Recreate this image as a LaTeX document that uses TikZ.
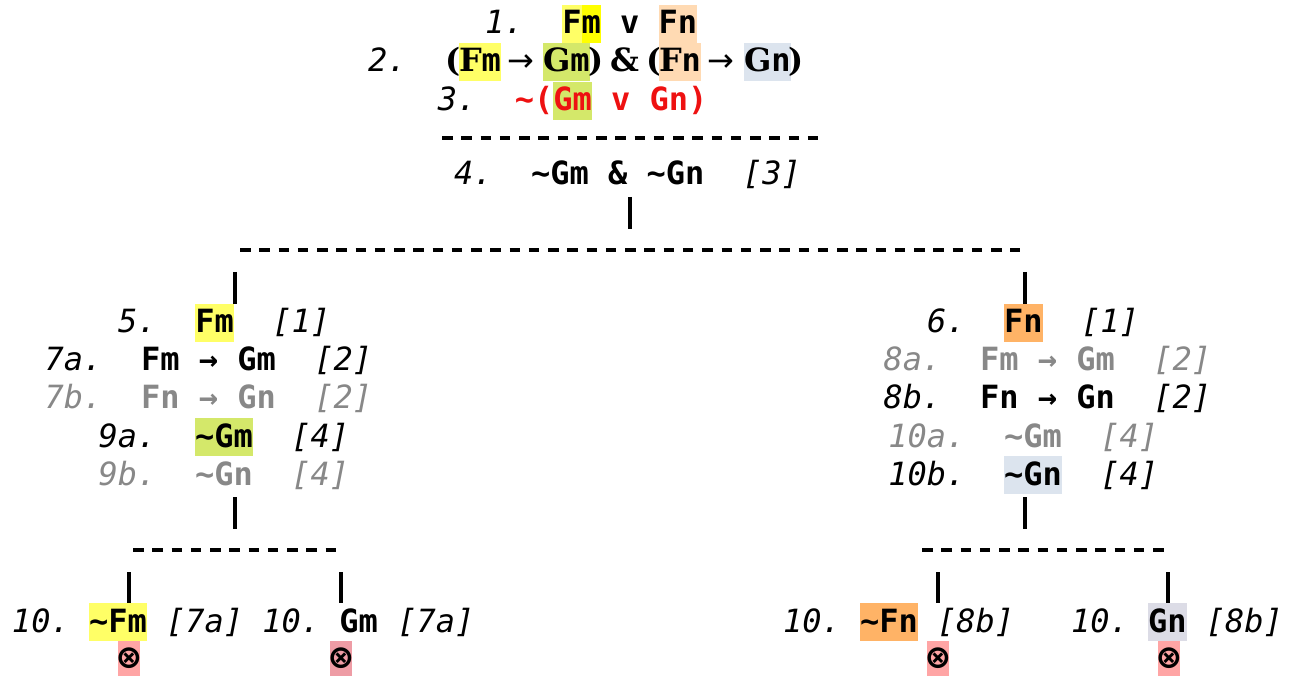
\documentclass[tikz,border=0pt]{standalone}
\usepackage{fontspec}
\setmainfont{DejaVu Sans Mono}[BoldFont={DejaVu Sans Mono Bold},ItalicFont={DejaVu Sans Mono Oblique},BoldItalicFont={DejaVu Sans Mono Bold Oblique}]
\newfontfamily\serb{DejaVu Serif}[BoldFont={DejaVu Serif Bold}]
\newfontfamily\djsans{DejaVu Sans}
\definecolor{hyl}{HTML}{FFFF66}
\definecolor{hyy}{HTML}{FFFF00}
\definecolor{hpe}{HTML}{FFDAB3}
\definecolor{hor}{HTML}{FFB366}
\definecolor{hgr}{HTML}{D4E86A}
\definecolor{hbl}{HTML}{DCE4EE}
\definecolor{hlv}{HTML}{DCDCE6}
\definecolor{hrd}{HTML}{FFA5A5}
\definecolor{hrdb}{HTML}{EE9CA5}
\definecolor{txg}{HTML}{888888}
\definecolor{txr}{HTML}{EE1111}
\newcommand\hl[2]{{\setlength{\fboxsep}{0pt}\colorbox{#1}{\rule[-9pt]{0pt}{38pt}#2}}}
\newcommand\lab[1]{{\mdseries\itshape #1}}
\newcommand\tl{\textasciitilde}
\tikzset{
  txt/.style={anchor=base west, inner sep=0pt, outer sep=0pt, font=\fontsize{32}{38}\selectfont\bfseries},
  dashrule/.style={line width=4pt, dash pattern=on 10.5pt off 8.76pt},
  bar/.style={line width=3.5pt},
  closed/.style={anchor=north, inner sep=0pt, outer sep=0pt, minimum width=20.5pt, minimum height=36pt, font=\fontsize{36}{40}\selectfont\bfseries}
}
\begin{document}
\begin{tikzpicture}[x=1pt,y=-1pt]
\useasboundingbox (0,0) rectangle (1294,676);
% premises
\node[txt] (r1) at (485.2,34) {\lab{1.}\ \ \hl{hyl}{F}\hl{hyy}{m}\ v\ \hl{hpe}{Fn}};
\node[txt] (r2n) at (368,72) {\lab{2.}};
\node[txt] (r2a) at (445,72) {\serb(};
\node[txt] (r2b) at (459,72) {\hl{hyl}{{\serb F}m}};
\node[txt] (r2c) at (507,72) {\djsans\mdseries →};
\node[txt] (r2d) at (543,72) {\hl{hgr}{{\serb G}m}};
\node[txt] (r2e) at (588,72) {\serb)};
\node[txt] (r2f) at (610,72) {\serb\&};
\node[txt] (r2g) at (646,72) {\serb(};
\node[txt] (r2h) at (659,72) {\hl{hpe}{{\serb F}n}};
\node[txt] (r2i) at (707,72) {\djsans\mdseries →};
\node[txt] (r2j) at (744,72) {\hl{hbl}{{\serb G}n}};
\node[txt] (r2k) at (788,72) {\serb)};
\node[txt] (r3) at (437.8,111) {\lab{3.}\ \ {\color{txr}\tl(\hl{hgr}{Gm}\ v\ Gn)}};
\coordinate (d1a) at (442,138);
\coordinate (d1b) at (818,138);
\draw[dashrule] (d1a) -- (d1b);
\node[txt] (r4) at (454,185) {\lab{4.}\ \ \tl Gm\ \&\ \tl Gn\ \ \lab{[3]}};
\coordinate (b1a) at (630,197);
\coordinate (b1b) at (630,229);
\draw[bar] (b1a) -- (b1b);
\coordinate (d2a) at (240,250.5);
\coordinate (d2b) at (1020,250.5);
\draw[dashrule] (d2a) -- (d2b);
% left branch
\coordinate (bLa) at (235,272);
\coordinate (bLb) at (235,304);
\draw[bar] (bLa) -- (bLb);
\node[txt] (r5) at (118.2,333) {\lab{5.}\ \ \hl{hyl}{Fm}\ \ \lab{[1]}};
\node[txt] (r7a) at (44.7,371) {\lab{7a.}\ \ Fm\ →\ Gm\ \ \lab{[2]}};
\node[txt] (r7b) at (44.7,409) {\color{txg}\lab{7b.}\ \ Fn\ →\ Gn\ \ \lab{[2]}};
\node[txt] (r9a) at (98.7,447) {\lab{9a.}\ \ \hl{hgr}{\tl Gm}\ \ \lab{[4]}};
\node[txt] (r9b) at (98.7,485) {\color{txg}\lab{9b.}\ \ \tl Gn\ \ \lab{[4]}};
\coordinate (bL2a) at (235,497);
\coordinate (bL2b) at (235,529);
\draw[bar] (bL2a) -- (bL2b);
\coordinate (d3a) at (133,550);
\coordinate (d3b) at (337,550);
\draw[dashrule] (d3a) -- (d3b);
\coordinate (bLLa) at (129,572);
\coordinate (bLLb) at (129,603);
\draw[bar] (bLLa) -- (bLLb);
\coordinate (bLRa) at (341,572);
\coordinate (bLRb) at (341,603);
\draw[bar] (bLRa) -- (bLRb);
\node[txt] (rl1) at (12,632) {\lab{10.}\ \hl{hyl}{\tl Fm}\ \lab{[7a]}};
\node[txt] (rl2) at (262.4,632) {\lab{10.}\ Gm\ \lab{[7a]}};
\node[closed, fill=hrd] (xl1) at (129,641) {⊗};
\node[closed, fill=hrdb] (xl2) at (341,641) {⊗};
% right branch
\coordinate (bRa) at (1025,272);
\coordinate (bRb) at (1025,304);
\draw[bar] (bRa) -- (bRb);
\node[txt] (r6) at (927,333) {\lab{6.}\ \ \hl{hor}{Fn}\ \ \lab{[1]}};
\node[txt] (r8a) at (883.7,371) {\color{txg}\lab{8a.}\ \ Fm\ →\ Gm\ \ \lab{[2]}};
\node[txt] (r8b) at (883.7,409) {\lab{8b.}\ \ Fn\ →\ Gn\ \ \lab{[2]}};
\node[txt] (r10a) at (888.4,447) {\color{txg}\lab{10a.}\ \ \tl Gm\ \ \lab{[4]}};
\node[txt] (r10b) at (888.4,485) {\lab{10b.}\ \ \hl{hbl}{\tl Gn}\ \ \lab{[4]}};
\coordinate (bR2a) at (1025,497);
\coordinate (bR2b) at (1025,529);
\draw[bar] (bR2a) -- (bR2b);
\coordinate (d4a) at (922,550);
\coordinate (d4b) at (1165,550);
\draw[dashrule] (d4a) -- (d4b);
\coordinate (bRLa) at (938,572);
\coordinate (bRLb) at (938,603);
\draw[bar] (bRLa) -- (bRLb);
\coordinate (bRRa) at (1168,572);
\coordinate (bRRb) at (1168,603);
\draw[bar] (bRRa) -- (bRRb);
\node[txt] (rr1) at (783,632) {\lab{10.}\ \hl{hor}{\tl Fn}\ \lab{[8b]}};
\node[txt] (rr2) at (1071,632) {\lab{10.}\ \hl{hlv}{Gn}\ \lab{[8b]}};
\node[closed, fill=hrd] (xr1) at (938,641) {⊗};
\node[closed, fill=hrd] (xr2) at (1169,641) {⊗};
\end{tikzpicture}
\end{document}
